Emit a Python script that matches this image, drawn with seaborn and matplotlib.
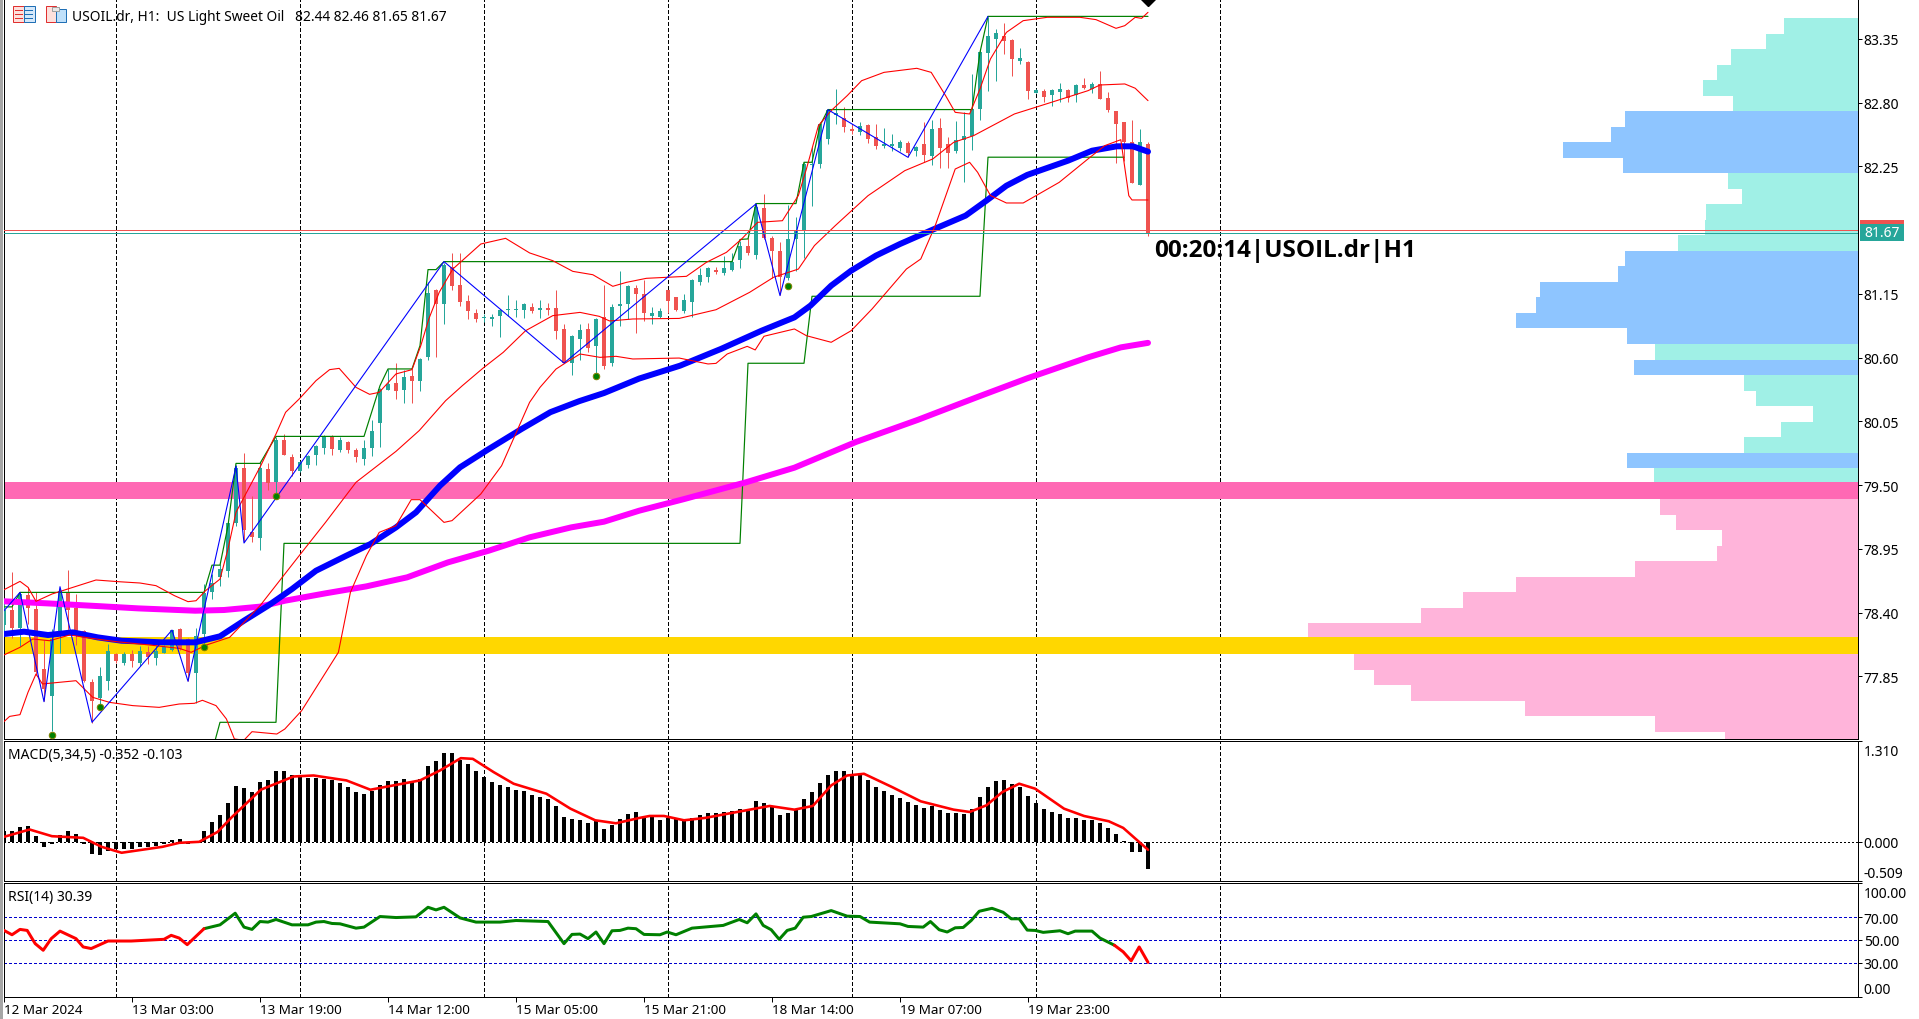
import matplotlib
matplotlib.use('Agg')
import matplotlib.pyplot as plt
import numpy as np
import pandas as pd
import seaborn as sns
from matplotlib.patches import Rectangle
from matplotlib.transforms import ScaledTranslation

# Candles, one per hour, oldest first
opens = [78.29, 78.42, 78.27, 78.55, 78.43, 77.91, 77.68, 78.24, 78.58, 78.44,
         78.24, 77.80, 77.66, 77.81, 78.04, 77.97, 78.04, 77.97, 78.06, 78.01,
         78.05, 78.08, 78.26, 78.17, 77.88, 78.22, 78.58, 78.71, 78.76, 79.17,
         79.65, 79.10, 79.04, 79.64, 79.53, 79.89, 79.74, 79.62, 79.67, 79.76,
         79.82, 79.92, 79.80, 79.87, 79.80, 79.73, 79.82, 80.04, 80.32, 80.38,
         80.32, 80.44, 80.40, 80.61, 81.18, 81.06, 81.38, 81.23, 81.09, 80.99,
         80.94, 80.93, 80.96, 81.01, 81.01, 81.01, 81.04, 81.01, 81.03, 81.03,
         80.85, 80.55, 80.76, 80.85, 80.70, 80.95, 80.55, 81.05, 81.06, 81.20,
         81.15, 80.96, 80.95, 81.18, 81.12, 81.00, 81.08, 81.25, 81.30, 81.36,
         81.33, 81.36, 81.44, 81.56, 81.49, 81.89, 81.63, 81.52, 81.29, 81.62,
         81.70, 82.26, 82.27, 82.49, 82.69, 82.67, 82.57, 82.55, 82.61, 82.50,
         82.43, 82.43, 82.41, 82.45, 82.38, 82.44, 82.34, 82.58, 82.44, 82.38,
         82.48, 82.51, 82.75, 83.23, 83.35, 83.38, 83.34, 83.16, 83.15, 82.88,
         82.90, 82.87, 82.89, 82.91, 82.87, 82.95, 82.92, 82.96, 82.84, 82.73,
         82.63, 82.46, 82.09, 82.44]
highs = [78.49, 78.75, 78.58, 78.62, 78.58, 78.16, 78.26, 78.60, 78.77, 78.56,
         78.25, 77.83, 77.93, 78.13, 78.05, 78.06, 78.08, 78.11, 78.11, 78.12,
         78.12, 78.25, 78.27, 78.18, 78.27, 78.65, 78.73, 78.82, 79.18, 79.67,
         79.78, 79.41, 79.70, 79.69, 79.92, 79.94, 79.77, 79.71, 79.76, 79.85,
         79.93, 79.93, 79.92, 79.88, 79.82, 79.89, 80.06, 80.34, 80.50, 80.55,
         80.49, 80.50, 80.60, 81.25, 81.19, 81.42, 81.50, 81.50, 81.14, 81.02,
         80.98, 80.98, 81.02, 81.14, 81.10, 81.07, 81.07, 81.10, 81.07, 81.18,
         80.89, 80.80, 80.89, 80.90, 80.94, 81.23, 81.06, 81.35, 81.23, 81.23,
         81.27, 81.04, 81.03, 81.18, 81.12, 81.15, 81.28, 81.37, 81.38, 81.38,
         81.48, 81.50, 81.61, 81.63, 81.93, 82.01, 81.65, 81.60, 81.92, 81.81,
         82.29, 82.42, 82.63, 82.75, 82.92, 82.76, 82.62, 82.63, 82.62, 82.62,
         82.58, 82.53, 82.48, 82.47, 82.43, 82.63, 82.65, 82.67, 82.50, 82.64,
         82.72, 83.05, 83.26, 83.54, 83.44, 83.49, 83.35, 83.27, 83.16, 82.92,
         82.92, 82.92, 82.97, 82.92, 82.96, 83.01, 82.98, 83.07, 82.89, 82.73,
         82.63, 82.65, 82.57, 82.46]
lows = [78.20, 78.18, 78.11, 78.30, 77.86, 77.64, 77.38, 78.05, 78.22, 78.12,
        77.80, 77.45, 77.58, 77.73, 77.97, 77.95, 77.93, 77.94, 77.96, 77.95,
        78.05, 78.07, 78.08, 77.81, 77.62, 78.12, 78.52, 78.63, 78.71, 79.15,
        79.01, 79.01, 78.94, 79.46, 79.40, 79.76, 79.58, 79.61, 79.65, 79.67,
        79.77, 79.76, 79.79, 79.78, 79.70, 79.67, 79.75, 79.83, 80.32, 80.24,
        80.21, 80.21, 80.31, 80.58, 80.61, 80.89, 81.18, 81.05, 80.93, 80.91,
        80.91, 80.87, 80.78, 80.96, 80.95, 80.94, 80.99, 80.94, 80.97, 80.76,
        80.55, 80.45, 80.58, 80.65, 80.47, 80.50, 80.53, 80.87, 80.93, 80.81,
        80.92, 80.89, 80.94, 80.99, 81.00, 80.99, 80.95, 81.23, 81.25, 81.32,
        81.31, 81.35, 81.37, 81.49, 81.45, 81.62, 81.29, 81.14, 81.27, 81.35,
        81.46, 81.91, 82.24, 82.44, 82.62, 82.55, 82.53, 82.52, 82.45, 82.40,
        82.41, 82.38, 82.38, 82.33, 82.34, 82.29, 82.26, 82.24, 82.24, 82.37,
        82.12, 82.39, 82.65, 82.90, 82.99, 83.22, 83.03, 83.13, 82.83, 82.88,
        82.81, 82.77, 82.81, 82.81, 82.81, 82.92, 82.88, 82.83, 82.72, 82.28,
        82.30, 82.11, 82.09, 81.65]
closes = [78.42, 78.27, 78.56, 78.44, 77.89, 77.74, 78.17, 78.59, 78.42, 78.22,
          77.81, 77.64, 77.85, 78.07, 77.98, 78.04, 77.98, 78.07, 78.02, 78.07,
          78.10, 78.25, 78.09, 77.88, 78.20, 78.57, 78.66, 78.78, 79.17, 79.65,
          79.11, 79.05, 79.65, 79.52, 79.89, 79.76, 79.62, 79.70, 79.75, 79.84,
          79.92, 79.81, 79.89, 79.80, 79.74, 79.82, 79.97, 80.33, 80.37, 80.31,
          80.43, 80.40, 80.59, 81.16, 81.06, 81.40, 81.22, 81.08, 81.00, 80.93,
          80.94, 80.95, 81.01, 81.01, 81.01, 81.06, 81.00, 81.03, 81.01, 80.83,
          80.55, 80.79, 80.84, 80.68, 80.93, 80.53, 81.04, 81.06, 81.22, 81.15,
          80.99, 80.99, 81.00, 81.09, 81.01, 81.10, 81.27, 81.31, 81.37, 81.34,
          81.37, 81.43, 81.56, 81.50, 81.90, 81.63, 81.52, 81.30, 81.62, 81.69,
          82.27, 82.27, 82.62, 82.74, 82.71, 82.59, 82.56, 82.60, 82.49, 82.43,
          82.44, 82.43, 82.46, 82.37, 82.42, 82.35, 82.57, 82.41, 82.37, 82.48,
          82.51, 82.75, 83.24, 83.38, 83.40, 83.33, 83.18, 83.19, 82.90, 82.91,
          82.85, 82.91, 82.92, 82.84, 82.95, 82.93, 82.96, 82.83, 82.74, 82.62,
          82.46, 82.11, 82.46, 81.67]

# Moving averages
ma_fast_x = [0, 2.5, 5.5, 8.6, 11.7, 14.7, 19.8, 23.9, 27, 30, 33, 36, 39, 42.8, 45.8, 49, 51.5, 54.5,
             57, 60.6, 64.7, 68.3, 71.9, 75, 79.4, 84.5, 89.6, 94.7, 98.8, 100.8, 103.4, 105.9, 109,
             112, 116.1, 120.2, 122.8, 125.3, 127.9, 133, 136, 139.1, 141.1, 143]
ma_fast_y = [78.216, 78.236, 78.207, 78.230, 78.187, 78.158, 78.144, 78.144, 78.196, 78.331, 78.460,
             78.604, 78.762, 78.892, 78.992, 79.136, 79.266, 79.496, 79.654, 79.812, 79.985, 80.130,
             80.225, 80.295, 80.420, 80.531, 80.675, 80.833, 80.948, 81.049, 81.222, 81.351, 81.481,
             81.581, 81.705, 81.826, 81.955, 82.084, 82.177, 82.300, 82.386, 82.424, 82.424, 82.378]
ma_slow_x = [0, 5.5, 12.2, 16.8, 23.9, 27.5, 32, 35.1, 40.2, 45.3, 50.4, 55.5, 60.6, 65.7, 70.9, 75,
             79.4, 85, 92.7, 98.8, 106.5, 114.2, 121.8, 127.9, 135.5, 139.6, 143]
ma_slow_y = [78.498, 78.480, 78.455, 78.437, 78.417, 78.423, 78.452, 78.503, 78.567, 78.627, 78.705,
             78.834, 78.935, 79.050, 79.136, 79.185, 79.280, 79.380, 79.524, 79.651, 79.873, 80.063,
             80.264, 80.422, 80.603, 80.689, 80.728]

# Bollinger bands
bb_upper_x = [0, 2, 3, 4, 6, 9, 11.5, 14.4, 17, 19, 21.3, 23, 24, 25.2, 27, 28, 29, 32.1, 34, 35.2,
              36.9, 39, 40.7, 41.9, 44, 45.7, 46.9, 49, 51, 52.1, 53.1, 54.4, 56.1, 59.6, 62.7, 65.7,
              68.6, 71.1, 73.6, 76.1, 77.8, 80.3, 85.3, 87.8, 90.3, 92.2, 94.2, 97.3, 99.3, 100.3,
              101.8, 103.4, 105.4, 107.2, 110, 114.1, 115.9, 117.7, 118.9, 120.7, 122, 123.3, 125.3,
              127.4, 130.4, 134.5, 136.5, 139, 140.1, 141.4, 142.2, 143]
bb_upper_y = [78.598, 78.670, 78.619, 78.498, 78.561, 78.627, 78.682, 78.667, 78.656, 78.633, 78.547,
              78.495, 78.503, 78.590, 78.690, 78.950, 79.266, 79.669, 79.942, 80.129, 80.244, 80.402,
              80.497, 80.508, 80.344, 80.284, 80.301, 80.460, 80.497, 80.704, 80.934, 81.164, 81.365,
              81.581, 81.630, 81.504, 81.437, 81.345, 81.316, 81.216, 81.250, 81.285, 81.302, 81.423,
              81.509, 81.624, 81.768, 81.782, 82.000, 82.228, 82.602, 82.732, 82.861, 82.990, 83.062,
              83.097, 83.062, 82.861, 82.717, 82.703, 82.919, 83.177, 83.407, 83.508, 83.537, 83.537,
              83.517, 83.442, 83.465, 83.537, 83.528, 83.580]
bb_mid_x = [0, 2, 3.6, 5.7, 8.2, 11.5, 14, 18.2, 21.9, 23.4, 25.3, 28.2, 32, 36.9, 40.2, 44, 49, 51.9,
            55.2, 57.3, 60, 62.4, 65.2, 68.6, 72, 74.4, 75.7, 78.6, 84.4, 89, 93.2, 96.2, 99.3, 101.3,
            103.9, 108, 112.6, 116.1, 118.7, 121.2, 126.3, 130.9, 135.5, 137, 140.1, 141.4, 143]
bb_mid_y = [78.035, 78.101, 78.173, 78.158, 78.207, 78.173, 78.150, 78.121, 78.092, 78.058, 78.121,
            78.187, 78.460, 78.892, 79.180, 79.525, 79.792, 79.971, 80.229, 80.359, 80.517, 80.646,
            80.833, 80.963, 80.991, 80.957, 80.917, 80.934, 80.939, 81.014, 81.164, 81.294, 81.365,
            81.567, 81.739, 81.998, 82.214, 82.315, 82.458, 82.516, 82.703, 82.803, 82.904, 82.953,
            82.962, 82.925, 82.818]
bb_lower_x = [0, 0.7, 2, 3, 4, 4.8, 6.9, 9, 11.1, 13.2, 16.1, 19.4, 21.9, 23.8, 24.8, 26.5, 27.8, 28.8,
              30, 31, 34.1, 35.1, 37.2, 39.7, 41.8, 43.3, 45.3, 46.9, 49, 50.9, 52, 55, 56, 59.6, 62.2,
              65.7, 67, 69, 70.3, 72, 74.5, 76.5, 78.6, 84.4, 88, 89, 90.4, 92.9, 93.9, 95, 98.8, 100.3,
              103.4, 105.9, 108.5, 112.8, 114.6, 116.4, 118.9, 120.7, 121.7, 123.3, 125.3, 127.4, 131.9,
              135.5, 137.6, 139.6, 140.6, 141, 143]
bb_lower_y = [77.460, 77.505, 77.520, 77.713, 77.871, 77.785, 77.799, 77.813, 77.669, 77.626, 77.598,
              77.583, 77.612, 77.618, 77.644, 77.598, 77.483, 77.310, 77.300, 77.373, 77.353, 77.396,
              77.554, 77.828, 78.058, 78.575, 78.892, 79.093, 79.151, 79.375, 79.375, 79.179, 79.194,
              79.424, 79.668, 80.215, 80.344, 80.502, 80.560, 80.632, 80.603, 80.612, 80.589, 80.597,
              80.546, 80.551, 80.632, 80.698, 80.667, 80.785, 80.848, 80.790, 80.733, 80.833, 81.020,
              81.365, 81.452, 81.739, 82.228, 82.286, 82.200, 82.000, 81.935, 81.935, 82.113, 82.315,
              82.430, 82.481, 81.998, 81.961, 81.961]

# Zigzag and the two channel lines
zigzag_x = [0, 2, 5, 7, 11, 21, 23, 29, 30, 55, 70, 94, 97, 103, 113, 123]
zigzag_y = [78.417, 78.575, 77.632, 78.624, 77.454, 78.250, 77.808, 79.663, 79.001, 81.429, 80.554,
            81.927, 81.136, 82.740, 82.329, 83.545]
channel_high_x = [0, 1, 2, 25, 26, 27, 28, 29, 32, 34, 45, 47, 48, 51, 52, 53, 54, 55, 91, 92, 93, 94,
                  99, 100, 101, 102, 103, 121, 122, 123, 143]
channel_high_y = [78.45, 78.45, 78.575, 78.575, 78.81, 78.81, 79.15, 79.688, 79.688, 79.921, 79.921,
                  80.359, 80.503, 80.503, 80.704, 81.360, 81.360, 81.429, 81.429, 81.62, 81.625, 81.93,
                  81.93, 82.286, 82.286, 82.603, 82.741, 82.741, 83.235, 83.545, 83.545]
channel_low_x = [26, 27, 34, 35, 92, 93, 100, 101, 122, 123, 140]
channel_low_y = [77.20, 77.454, 77.454, 78.998, 78.998, 80.552, 80.552, 81.13, 81.13, 82.33, 82.33]

# Fractal dots under the swing lows
dot_x = [6, 12, 25, 34, 74, 98]
dot_y = [77.345, 77.583, 78.101, 79.404, 80.439, 81.216]

# Volume profile, top bin first
profile_top = 83.53
profile_step = 0.1339
profile_volume = [73.8, 91.8, 126.9, 140.8, 154.6, 124.8, 233, 246.9, 294.2, 235, 129.7, 115.9, 151.8,
                  153, 180, 233, 239.1, 317.9, 321.2, 342, 231, 202.8, 224, 113.8, 101.6, 44.9, 76.7,
                  113.8, 230.2, 204, 200, 197.9, 182, 135.9, 140.8, 222.8, 342, 394.2, 436.3, 549.3,
                  560, 503.2, 483.2, 446.5, 333, 202.8, 132.6]
profile_kind = list('tttttt' + 'bbbb' + 'ttttt' + 'bbbbbb' + 't' + 'b' + 'ttttt' + 'b' + 't')
profile_kind += list('p' * (len(profile_volume) - len(profile_kind)))

# Support and resistance zones, bid and ask
zone_pink = (79.381, 79.528)
zone_gold = (78.044, 78.188)
ask_price = 81.705
bid_price = 81.68

# MACD
macd_hist = [.138, .138, .194, .207, .073, -.073, -.022, .095, .142, .103,
             -.030, -.164, -.172, -.121, -.095, -.095, -.095, -.073, -.065, -.052,
             -.030, .022, .034, -.022, .009, .147, .259, .354, .509, .729,
             .703, .647, .776, .806, .914, .918, .862, .841, .832, .832,
             .819, .798, .768, .716, .651, .625, .664, .742, .789, .793,
             .815, .776, .819, .987, 1.052, 1.156, 1.156, 1.069, 1.013, .923,
             .845, .776, .733, .712, .677, .655, .612, .586, .552, .466,
             .328, .302, .289, .250, .280, .172, .224, .302, .367, .392,
             .323, .323, .289, .310, .293, .302, .310, .354, .379, .375,
             .388, .405, .427, .431, .535, .509, .453, .354, .371, .410,
             .561, .651, .768, .871, .923, .923, .871, .862, .798, .716,
             .664, .612, .574, .522, .483, .444, .466, .418, .379, .379,
             .367, .431, .586, .716, .793, .806, .755, .716, .599, .509,
             .431, .392, .367, .315, .315, .289, .289, .250, .185, .108,
             .013, -.138, -.138, -.352]
macd_signal_x = [0, 3.2, 6, 9.9, 12.2, 14.7, 19.8, 21.9, 24.4, 26.7, 28.5, 32.1, 36.2, 38.7, 42.8, 45.8,
                 52, 54.5, 57.1, 58.6, 61.2, 63.7, 67.8, 70.8, 73.9, 76.5, 79.4, 80.7, 82.5, 85, 87.6,
                 95.7, 98.8, 101.1, 103.4, 105.4, 107.5, 111, 114.6, 118.7, 120.7, 122.8, 124.8, 126.9,
                 128.9, 132.5, 135, 138.1, 139.9, 143]
macd_signal_y = [.065, .160, .073, .052, -.065, -.142, -.065, -.013, 0, .129, .323, .677, .849, .862,
                 .798, .677, .798, .927, 1.087, 1.078, .906, .755, .625, .431, .280, .241, .310, .336,
                 .336, .280, .310, .466, .418, .466, .733, .862, .884, .712, .526, .418, .388, .474,
                 .647, .755, .690, .431, .336, .267, .181, -.103]

# RSI
rsi_x = [0, 1, 2, 2.9, 3.9, 4.9, 5.9, 7, 9, 9.9, 10.9, 13, 15.9, 20, 20.9, 21.9, 22.9, 25, 27, 28.9, 30,
         31, 32, 33, 34, 36, 38, 39, 40, 41, 42, 44, 45, 47, 49, 51.5, 53, 54, 55, 57, 59, 62, 64, 68,
         70, 71, 72, 73, 74, 75, 76, 77, 78, 79, 80, 82, 82.9, 84, 86, 89.9, 91.9, 92.9, 94, 94.9, 95.9,
         96.9, 97.9, 98.9, 99.9, 100.9, 103.4, 105.4, 107, 108.2, 112, 113, 114.9, 115.8, 116.9, 117.9,
         118.9, 119.9, 120.9, 121.9, 123.5, 124.9, 125.9, 126.9, 127.9, 128.9, 129.9, 132, 133, 133.9,
         136, 137, 138.8, 139.9, 140.9, 141.9, 143]
rsi_y = [58.4, 54.6, 59.3, 58.4, 46.8, 41, 51.2, 57.8, 51.2, 43.9, 42.5, 49.1, 49.1, 50.6, 54.1, 51.7,
         45.9, 59.9, 63.3, 73.5, 61.3, 59.3, 66.2, 65.7, 68, 63.3, 63.3, 65.7, 66.2, 64.5, 64.2, 60.4,
         61.3, 70.6, 69.7, 70.3, 78.7, 76.4, 78.7, 69.4, 65.7, 65.7, 67.1, 66.2, 46.8, 54.9, 55.2, 51.2,
         57, 46.8, 58.1, 58.4, 60.4, 59.9, 54.9, 54.6, 57, 54.6, 60.4, 62.8, 68, 65.1, 72.9, 62.8, 59,
         50.6, 58.4, 60.4, 70, 70.6, 75.8, 70.9, 70.6, 65.7, 64.2, 61.9, 61.3, 66.2, 59, 57, 60.7, 61,
         67.1, 75.2, 77.8, 74.3, 68.6, 68.6, 58.7, 58.4, 56.7, 58.1, 55.5, 57.8, 57.8, 51.7, 45.4, 39.6,
         31.7, 43.9, 30.39]
rsi_green_from = 25
rsi_green_to = 138.8

# Axis labels
price_ticks = [83.35, 82.80, 82.25, 81.15, 80.60, 80.05, 79.50, 78.95, 78.40, 77.85]
macd_ticks = [1.310, 0.000, -0.509]
rsi_ticks = [100, 70, 50, 30, 0]
rsi_levels = [70, 50, 30]
time_ticks = [0, 16, 32, 48, 64, 80, 96, 112, 128]
time_labels = ['12 Mar 2024', '13 Mar 03:00', '13 Mar 19:00', '14 Mar 12:00', '15 Mar 05:00',
               '15 Mar 21:00', '18 Mar 14:00', '19 Mar 07:00', '19 Mar 23:00']
day_breaks = [14, 37, 60, 83, 106, 129, 152]

WIDTH, HEIGHT = 1919, 1020
LEFT, RIGHT = 4.0, 1857.5
UP_COLOR = '#26a69a'
DOWN_COLOR = '#ef5350'
PX = 0.72  # one pixel in points at dpi 100

sns.set_theme(style='ticks', rc={
    'axes.edgecolor': 'black', 'axes.linewidth': PX,
    'xtick.color': 'black', 'ytick.color': 'black', 'text.color': 'black',
    'xtick.major.width': PX, 'ytick.major.width': PX,
})
plt.rcParams['font.family'] = ['Noto Sans', 'DejaVu Sans']
FONT = 10


def panel(fig, top, bottom):
    ax = fig.add_axes([LEFT / WIDTH, 1 - bottom / HEIGHT, (RIGHT - LEFT) / WIDTH, (bottom - top) / HEIGHT])
    ax.set_xlim(0, (RIGHT - LEFT) / 8)
    ax.yaxis.tick_right()
    ax.tick_params(axis='y', length=3, pad=1.5, labelsize=FONT)
    ax.set_xticks([])
    ax.patch.set_visible(False)
    for x in day_breaks:
        ax.axvline(x, color='black', lw=PX, ls=(0, (3, 2.5)), zorder=1, antialiased=False)
    return ax


def draw_line(ax, xs, ys, color, px=1, zorder=5):
    sns.lineplot(x=xs, y=ys, ax=ax, color=color, linewidth=px * PX, estimator=None, sort=False,
                 errorbar=None, legend=False, zorder=zorder)


def nudge_label(fig, label, dy_px):
    # Top and bottom scale labels sit inside the panel, a little off their ticks
    label.set_transform(label.get_transform() + ScaledTranslation(0, dy_px / 100, fig.dpi_scale_trans))


def px_rect(fig, x, y, w, h, color, edge=None):
    fig.add_artist(Rectangle((x / WIDTH, 1 - (y + h) / HEIGHT), w / WIDTH, h / HEIGHT, facecolor=color,
                             edgecolor=edge or color, linewidth=PX if edge else 0, transform=fig.transFigure))


fig = plt.figure(figsize=(WIDTH / 100, HEIGHT / 100), dpi=100, facecolor='white')

# Main price panel
ax = panel(fig, 0, 740)
ax.set_ylim(77.31, 83.695)
ax.spines['top'].set_visible(False)
ax.set_zorder(2)

# Volume profile hangs off the right edge on its own x scale
prof = ax.twiny()
prof.set_xlim(RIGHT - LEFT, 0)
prof.axis('off')
prof.set_zorder(1)
kind_colors = {'t': '#a0f0e6', 'b': '#8ec5ff', 'p': '#ffb4da'}
centers = profile_top - (np.arange(len(profile_volume)) + 0.5) * profile_step
prof.barh(centers, profile_volume, height=profile_step, linewidth=0,
          color=[kind_colors[k] for k in profile_kind])

ax.axhspan(*zone_pink, color='#ff69b4', lw=0, zorder=2)
ax.axhspan(*zone_gold, color='#ffd700', lw=0, zorder=2)

# Candles
candles = pd.DataFrame({'open': opens, 'high': highs, 'low': lows, 'close': closes})
candles['bar'] = candles.index
colors = np.where(candles['close'] >= candles['open'], UP_COLOR, DOWN_COLOR)
ax.vlines(candles['bar'], candles['low'], candles['high'], colors=colors, lw=PX, zorder=3)
ax.bar(candles['bar'], (candles['close'] - candles['open']).abs().clip(lower=0.012),
       bottom=candles[['open', 'close']].min(axis=1), width=0.62, color=colors, linewidth=0, zorder=3)

draw_line(ax, channel_high_x, channel_high_y, '#008000', px=1.2, zorder=4)
draw_line(ax, channel_low_x, channel_low_y, '#008000', px=1.2, zorder=4)
draw_line(ax, ma_slow_x, ma_slow_y, '#ff00ff', px=6, zorder=5)
draw_line(ax, ma_fast_x, ma_fast_y, '#0000ff', px=6, zorder=5)
draw_line(ax, bb_upper_x, bb_upper_y, '#ff0000', px=1.1, zorder=6)
draw_line(ax, bb_mid_x, bb_mid_y, '#ff0000', px=1.1, zorder=6)
draw_line(ax, bb_lower_x, bb_lower_y, '#ff0000', px=1.1, zorder=6)
draw_line(ax, zigzag_x, zigzag_y, '#0000ff', px=1.1, zorder=6)
ax.scatter(dot_x, dot_y, s=22, color='#008000', edgecolors='#808000', linewidths=0.7, zorder=7)
ax.plot([143], [83.695], marker='D', ms=6.8, color='black', zorder=8)

ax.axhline(ask_price, color=DOWN_COLOR, lw=PX, zorder=6, antialiased=False)
ax.axhline(bid_price, color=UP_COLOR, lw=PX, zorder=6, antialiased=False)
ax.set_yticks(price_ticks)
ax.set_yticklabels([f'{p:.2f}' for p in price_ticks])

# Bid and ask price tags on the scale
tag_tf = ax.get_yaxis_transform()
ax.add_patch(Rectangle((1.0014, 81.754), 0.02375, 0.034, transform=tag_tf, color=DOWN_COLOR, lw=0, clip_on=False))
ax.add_patch(Rectangle((1.0014, 81.61), 0.02375, 0.144, transform=tag_tf, color=UP_COLOR, lw=0, clip_on=False))
ax.text(1.0036, 81.68, '81.67', transform=tag_tf, color='white', va='center', ha='left', fontsize=FONT, clip_on=False)

ax.text(143.8, 81.527, '00:20:14|USOIL.dr|H1', fontsize=17.5, fontweight='bold', family=['Open Sans', 'DejaVu Sans'],
        va='center', ha='left', zorder=9)

# MACD panel
ax_macd = panel(fig, 742, 882)
bars = np.arange(len(macd_hist))
sns.barplot(x=bars, y=macd_hist, ax=ax_macd, native_scale=True, color='black', saturation=1, width=0.5,
            errorbar=None, linewidth=0, zorder=3)
ax_macd.axhline(0, color='black', lw=PX, ls=(0, (2, 2.5)), zorder=2, antialiased=False)
draw_line(ax_macd, macd_signal_x, macd_signal_y, '#ff0000', px=2.6)
ax_macd.set_xlim(0, (RIGHT - LEFT) / 8)
ax_macd.set_ylim(macd_ticks[2], macd_ticks[0])
ax_macd.set_xticks([])
ax_macd.set_xlabel('')
ax_macd.set_ylabel('')
ax_macd.set_yticks(macd_ticks)
ax_macd.set_yticklabels([f'{v:.3f}' for v in macd_ticks])
ax_macd.get_yticklabels()[0].set_va('top')
ax_macd.get_yticklabels()[2].set_va('bottom')
nudge_label(fig, ax_macd.get_yticklabels()[0], -3)

# RSI panel
ax_rsi = panel(fig, 884, 998)
rsi = pd.DataFrame({'x': rsi_x, 'y': rsi_y})
for level in rsi_levels:
    ax_rsi.axhline(level, color='#0000cd', lw=PX, ls=(0, (2.5, 2.5)), zorder=2, antialiased=False)
head = rsi[rsi['x'] <= rsi_green_from]
mid = rsi[(rsi['x'] >= rsi_green_from) & (rsi['x'] <= rsi_green_to)]
tail = rsi[rsi['x'] >= rsi_green_to]
draw_line(ax_rsi, mid['x'].tolist(), mid['y'].tolist(), '#008000', px=3)
draw_line(ax_rsi, head['x'].tolist(), head['y'].tolist(), '#ff0000', px=3)
draw_line(ax_rsi, tail['x'].tolist(), tail['y'].tolist(), '#ff0000', px=3)
ax_rsi.set_ylim(0, 100)
ax_rsi.set_yticks(rsi_ticks)
ax_rsi.set_yticklabels([f'{v:.2f}' for v in rsi_ticks])
ax_rsi.get_yticklabels()[0].set_va('top')
ax_rsi.get_yticklabels()[4].set_va('bottom')
nudge_label(fig, ax_rsi.get_yticklabels()[0], -3)
ax_rsi.set_xticks(time_ticks)
ax_rsi.set_xticklabels(time_labels, ha='left', fontsize=9.7)
ax_rsi.tick_params(axis='x', length=3.5, pad=1)
ax_rsi.set_xlim(0, (RIGHT - LEFT) / 8)

# Panel captions
fig.text(71.5 / WIDTH, 1 - 17.5 / HEIGHT, 'USOIL.dr, H1:  US Light Sweet Oil   82.44 82.46 81.65 81.67',
         fontsize=9.9, va='center', ha='left')
fig.text(7.8 / WIDTH, 1 - 755 / HEIGHT, 'MACD(5,34,5) -0.352 -0.103', fontsize=FONT, va='center', ha='left')
fig.text(7.8 / WIDTH, 1 - 898 / HEIGHT, 'RSI(14) 30.39', fontsize=FONT, va='center', ha='left')

# Window frame and the two toolbar icons
px_rect(fig, 0, 0, 3, HEIGHT, '#a6a6a6')
px_rect(fig, 12.5, 6.5, 11, 16, '#fde0dc', edge='#e03030')
px_rect(fig, 23.5, 6.5, 11, 16, '#d5e8fa', edge='#1f6fb5')
for row_y in (10.5, 14.5, 18.5):
    px_rect(fig, 14.5, row_y, 8, 1.4, '#e03030')
    px_rect(fig, 25, row_y, 8, 1.4, '#1f6fb5')
px_rect(fig, 45.5, 6.5, 10, 16, '#fde0dc', edge='#e03030')
px_rect(fig, 56, 10, 10, 12.5, '#bfe0fa', edge='#1f6fb5')
px_rect(fig, 52, 7.5, 7, 4, '#e8e8e8', edge='#a0a0a0')

fig.savefig('out.png', dpi=100)
